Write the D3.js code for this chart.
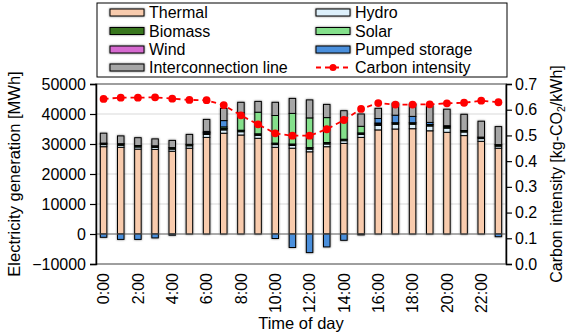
<!DOCTYPE html>
<html><head><meta charset="utf-8">
<script src="https://cdn.jsdelivr.net/npm/d3@7"></script>
<style>
html,body{margin:0;padding:0;background:#fff;}
svg{display:block;font-family:"Liberation Sans",Arial,sans-serif;}
</style></head>
<body><svg id="c" width="569" height="334"></svg>
<script>
const hours = d3.range(24);
const hourLabels = hours.map(h => h + ":00");
const thermal = [29100,28900,28300,28200,27600,28600,32200,33600,33000,31900,28900,28600,27400,29100,30200,32200,34700,35000,35100,34400,33900,32800,30900,28600];
const hydro = [700,700,700,700,700,800,1000,1100,1100,1000,900,900,900,900,900,1000,1500,1600,1500,1600,1400,1200,900,700];
const biomass = [400,400,400,400,400,400,400,400,400,400,400,400,400,400,400,400,400,400,400,400,400,400,400,400];
const wind = [100,100,100,100,100,100,100,100,100,100,100,100,100,100,100,100,100,100,100,100,100,100,100,100];
const solar = [0,0,0,0,0,0,100,500,5800,7200,9200,10200,9900,8300,6200,2200,300,0,0,0,0,0,0,0];
const pumped = [-1100,-1800,-1800,-1300,-400,0,400,2100,0,0,-1500,-4500,-6200,-4300,-2100,-300,1500,2500,2100,700,300,0,0,-900];
const interconnection = [3300,2600,2600,2300,2400,3300,4000,4100,3500,3600,4400,5000,6000,4400,3300,4100,3400,4000,4100,5600,5500,5400,5300,6000];
const carbon = [0.642,0.647,0.647,0.648,0.643,0.638,0.637,0.618,0.578,0.543,0.508,0.499,0.499,0.524,0.560,0.603,0.626,0.620,0.620,0.621,0.625,0.627,0.635,0.629];
const leftTicks = [-10000,0,10000,20000,30000,40000,50000];
const rightTicks = [0,0.1,0.2,0.3,0.4,0.5,0.6,0.7];
const xTickHours = [0,2,4,6,8,10,12,14,16,18,20,22];

const seriesKeys = ["thermal","hydro","biomass","wind","solar","pumped","interconnection"];
const seriesNames = {thermal:"Thermal",hydro:"Hydro",biomass:"Biomass",wind:"Wind",solar:"Solar",pumped:"Pumped storage",interconnection:"Interconnection line"};
const colors = {thermal:"#f8cbad",hydro:"#ddf0fb",biomass:"#38761d",wind:"#d66ad0",solar:"#84e08b",pumped:"#4a8fdc",interconnection:"#a6a6a6"};
const src = {thermal,hydro,biomass,wind,solar,pumped,interconnection};
const table = hours.map((h,i) => { const o={hour:h}; seriesKeys.forEach(k=>o[k]=src[k][i]); return o; });

const svg = d3.select("#c");
const L=96, R=506, T=84, B=264;
const FF = "Liberation Sans, Arial, sans-serif";
const x = d3.scaleBand().domain(hours).range([95,507]);
const y = d3.scaleLinear().domain([-10000,50000]).range([B,T]);
const y2 = d3.scaleLinear().domain([0,0.7]).range([B,T]);
const barW = 6.5;

// gridlines
svg.append("g").selectAll("line").data([10000,20000,30000,40000]).join("line")
  .attr("x1",L).attr("x2",R).attr("y1",d=>y(d)).attr("y2",d=>y(d))
  .attr("stroke","#d9d9d9").attr("stroke-width",1);

// stacked bars
const stack = d3.stack().keys(seriesKeys).offset(d3.stackOffsetDiverging);
const layers = stack(table);
const barsG = svg.append("g").style("filter","drop-shadow(0 0 0.8px rgba(0,0,0,0.55))");
layers.forEach(layer => {
  barsG.append("g").selectAll("rect").data(layer.filter(d=>d[1]!==d[0])).join("rect")
    .attr("x", d => x(d.data.hour) + x.bandwidth()/2 - barW/2)
    .attr("width", barW)
    .attr("y", d => y(Math.max(d[0],d[1])))
    .attr("height", d => Math.abs(y(d[0])-y(d[1])))
    .attr("fill", colors[layer.key])
    .attr("stroke","#000").attr("stroke-width",1);
});

// zero line
svg.append("line").attr("x1",L).attr("x2",R).attr("y1",y(0)).attr("y2",y(0))
  .attr("stroke","#595959").attr("stroke-width",1.2);

// frame
svg.append("rect").attr("x",L).attr("y",T).attr("width",R-L).attr("height",B-T)
  .attr("fill","none").attr("stroke","#7f7f7f").attr("stroke-width",1.5);

// left axis
const axL = svg.append("g").attr("transform",`translate(${L},0)`)
  .call(d3.axisLeft(y).tickValues(leftTicks).tickSize(6).tickPadding(4).tickFormat(d3.format("d")));
axL.select(".domain").attr("stroke","#000").attr("stroke-width",1.5);
axL.selectAll(".tick line").attr("stroke","#000").attr("stroke-width",1.2);
axL.selectAll("text").attr("font-size",16).attr("fill","#000").attr("font-family",FF);

// right axis
const axR = svg.append("g").attr("transform",`translate(${R},0)`)
  .call(d3.axisRight(y2).tickValues(rightTicks).tickSize(6).tickPadding(3).tickFormat(d3.format(".1f")));
axR.select(".domain").attr("stroke","#000").attr("stroke-width",1.5);
axR.selectAll(".tick line").attr("stroke","#000").attr("stroke-width",1.2);
axR.selectAll("text").attr("font-size",16).attr("fill","#000").attr("font-family",FF);

// x axis labels
const axX = svg.append("g").attr("transform",`translate(0,${B})`)
  .call(d3.axisBottom(x).tickValues(xTickHours).tickSize(0).tickPadding(0).tickFormat(h=>hourLabels[h]));
axX.select(".domain").remove();
axX.selectAll("text").attr("font-size",16).attr("fill","#000").attr("font-family",FF)
  .attr("transform","rotate(-90)").attr("text-anchor","end").attr("x",-9).attr("y",0).attr("dy","0.35em");

// carbon line
const line = d3.line().x(d=>x(d.h)+x.bandwidth()/2).y(d=>y2(d.v));
const cdata = hours.map((h,i)=>({h,v:carbon[i]}));
svg.append("path").datum(cdata).attr("d",line).attr("fill","none")
  .attr("stroke","#ff0000").attr("stroke-width",1.8).attr("stroke-dasharray","5,4");
svg.append("g").selectAll("circle").data(cdata).join("circle")
  .attr("cx",d=>x(d.h)+x.bandwidth()/2).attr("cy",d=>y2(d.v)).attr("r",3.9).attr("fill","#ff0000");

// titles
svg.append("text").attr("transform",`translate(20,${(T+B)/2}) rotate(-90)`).attr("text-anchor","middle")
  .attr("font-size",16.5).text("Electricity generation [MWh]");
const rt = svg.append("text").attr("transform",`translate(562,${(T+B)/2}) rotate(-90)`).attr("text-anchor","middle")
  .attr("font-size",16);
rt.append("tspan").text("Carbon intensity [kg-CO");
rt.append("tspan").attr("font-size",10.5).attr("dy",3).text("2");
rt.append("tspan").attr("dy",-3).text("/kWh]");
svg.append("text").attr("x",(L+R)/2).attr("y",329).attr("text-anchor","middle").attr("font-size",16.5).text("Time of day");

// legend
const lg = svg.append("g");
lg.append("rect").attr("x",97).attr("y",3).attr("width",410).attr("height",74).attr("fill","#fff").attr("stroke","#000").attr("stroke-width",1);
const legendItems = [
  {k:"thermal",col:0,row:0},{k:"hydro",col:1,row:0},
  {k:"biomass",col:0,row:1},{k:"solar",col:1,row:1},
  {k:"wind",col:0,row:2},{k:"pumped",col:1,row:2},
  {k:"interconnection",col:0,row:3},{k:"carbon",col:1,row:3}
];
const colX=[110,316], rowY=[12.5,31,49.5,67.5];
legendItems.forEach(it=>{
  const gx=colX[it.col], gy=rowY[it.row];
  if(it.k==="carbon"){
    lg.append("line").attr("x1",gx).attr("x2",gx+34).attr("y1",gy).attr("y2",gy)
      .attr("stroke","#ff0000").attr("stroke-width",1.8).attr("stroke-dasharray","5,4");
    lg.append("circle").attr("cx",gx+17).attr("cy",gy).attr("r",3.5).attr("fill","#ff0000");
    lg.append("text").attr("x",gx+39).attr("y",gy).attr("dy","0.35em").attr("font-size",16).text("Carbon intensity");
  } else {
    lg.append("rect").attr("x",gx).attr("y",gy-3.5).attr("width",34).attr("height",7)
      .attr("fill",colors[it.k]).attr("stroke","#000").attr("stroke-width",1)
      .style("filter","drop-shadow(0 0 0.8px rgba(0,0,0,0.55))");
    lg.append("text").attr("x",gx+39).attr("y",gy).attr("dy","0.35em").attr("font-size",16).text(seriesNames[it.k]);
  }
});
</script></body></html>
